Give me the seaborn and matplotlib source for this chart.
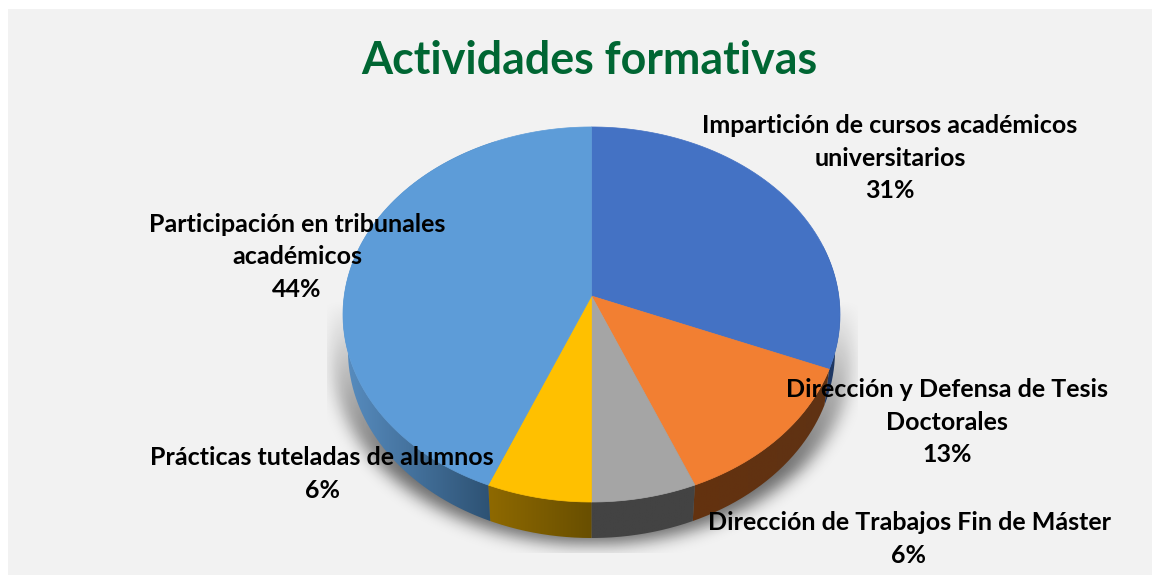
import numpy as np
import matplotlib
matplotlib.use("Agg")
import matplotlib.pyplot as plt
import seaborn as sns
from matplotlib.colors import LinearSegmentedColormap
from matplotlib.patches import Rectangle, PathPatch
from matplotlib.path import Path
from matplotlib.transforms import Affine2D, Transform

titulo = "Actividades formativas"
categorias = [
    "Impartición de cursos académicos\nuniversitarios",
    "Dirección y Defensa de Tesis\nDoctorales",
    "Dirección de Trabajos Fin de Máster",
    "Prácticas tuteladas de alumnos",
    "Participación en tribunales\nacadémicos",
]
valores = [31.2, 12.6, 6.2, 6.2, 43.8]
colores = ["#4472c4", "#f27f32", "#a5a5a5", "#ffc000", "#5d9cd8"]
# pared lateral: color a la izquierda y a la derecha de cada porcion
pared_izq = ["#1f3864", "#64320f", "#434343", "#916b00", "#5a90c4"]
pared_der = ["#1f3864", "#5f3214", "#434343", "#664d00", "#2c5071"]
# centro de cada etiqueta en pixeles
pos_etiquetas = [(890, 158), (947, 422), (909, 539), (322, 474), (297, 257)]

ANCHO, ALTO = 1161, 578
CX, CY = 591.5, 296
SX, SY, PERSP = 247.3, 185.7, 0.0986
GROSOR = 36
ESTRECHA = 0.98  # el borde inferior se ve algo mas estrecho


def proyectar(xy):
    xy = np.asarray(xy, dtype=float)
    w = 1 + PERSP * xy[:, 1]
    return np.column_stack((CX + SX * xy[:, 0] / w, CY - SY * xy[:, 1] / w))


class Perspectiva(Transform):
    # pasa el circulo unidad del pie a la elipse en perspectiva
    input_dims = 2
    output_dims = 2
    has_inverse = False
    is_separable = False

    def transform_non_affine(self, values):
        return proyectar(values)

    def transform_path_non_affine(self, path):
        grande = path.transformed(Affine2D().scale(1000))
        return Path(proyectar(grande.to_polygons()[0] / 1000), closed=True)


def borde(theta1, theta2):
    t = np.radians(np.linspace(theta1, theta2, 200))
    return proyectar(np.column_stack((np.cos(t), np.sin(t))))


def borde_inferior(arco):
    return np.column_stack((CX + (arco[:, 0] - CX) * ESTRECHA, arco[:, 1] + GROSOR))


def gauss(img, sigma):
    x = np.arange(-3 * sigma, 3 * sigma + 1)
    k = np.exp(-x ** 2 / (2 * sigma ** 2))
    k = k / k.sum()
    img = np.apply_along_axis(lambda m: np.convolve(m, k, mode="same"), 0, img)
    return np.apply_along_axis(lambda m: np.convolve(m, k, mode="same"), 1, img)


sns.set_theme(style="white")
plt.rcParams["font.family"] = ["Lato", "DejaVu Sans"]

fig = plt.figure(figsize=(ANCHO / 100, ALTO / 100), dpi=100, facecolor="white")
ax = fig.add_axes([0, 0, 1, 1])
wedges, _ = ax.pie(valores, colors=colores, startangle=90, counterclock=False)
ax.set_aspect("auto")
ax.set_xlim(0, ANCHO)
ax.set_ylim(ALTO, 0)

ax.add_patch(Rectangle((8, 9), 1144, 566, facecolor="#f2f2f2", edgecolor="none", zorder=0))

# sombra difusa bajo el pie
rim = borde(0, 360)
yy, xx = np.mgrid[0:ALTO, 0:ANCHO]
puntos = np.column_stack((xx.ravel(), yy.ravel()))
masc = np.zeros((ALTO, ANCHO))
for dy in np.linspace(0, GROSOR + 6, 8):
    esc = (rim - [CX, CY + 18]) * [1.045, 1.0] + [CX, CY + 18 + dy]
    masc = np.maximum(masc, Path(esc).contains_points(puntos).reshape(ALTO, ANCHO))
sombra = gauss(masc, 8)
sombra = sombra * np.clip((yy - 300) / 170, 0, 1) * 0.55
sombra[(xx < 327) | (xx > 857) | (yy > 552)] = 0
rgba = np.zeros((ALTO, ANCHO, 4))
rgba[..., 3] = sombra
ax.imshow(rgba, extent=(0, ANCHO, ALTO, 0), aspect="auto", zorder=1, interpolation="bilinear")

# paredes laterales con degradado
for w, c1, c2 in zip(wedges, pared_izq, pared_der):
    arco = borde(w.theta1, w.theta2)
    banda = np.vstack((arco, borde_inferior(arco)[::-1]))
    parche = PathPatch(Path(banda, closed=False), facecolor="none", edgecolor="none", zorder=2)
    ax.add_patch(parche)
    cmap = LinearSegmentedColormap.from_list("pared", [c1, c2])
    # el degradado solo cubre la parte visible, por debajo del centro
    visible = arco[arco[:, 1] > CY]
    x0, x1 = visible[:, 0].min() - 6, visible[:, 0].max() + 6
    y0, y1 = banda[:, 1].min(), banda[:, 1].max()
    im = ax.imshow(np.linspace(0, 1, 256).reshape(1, -1), cmap=cmap, extent=(x0, x1, y1, y0),
                   aspect="auto", zorder=2)
    im.set_clip_path(parche)

# caras superiores del pie
persp = Perspectiva()
for w in wedges:
    w.set_edgecolor(w.get_facecolor())
    w.set_linewidth(0.5)
    w.set_transform(persp + ax.transData)
    w.set_zorder(3)
    w.set_clip_on(False)
ax.set_xlim(0, ANCHO)
ax.set_ylim(ALTO, 0)

ax.text(589.5, 61, titulo, ha="center", va="center", fontsize=32.2, fontweight="bold",
        color="#006633", zorder=5)
for nombre, valor, (x, y) in zip(categorias, valores, pos_etiquetas):
    ax.text(x, y, f"{nombre}\n{valor:.0f}%", ha="center", va="center", multialignment="center",
            fontsize=18, fontweight="bold", color="black", linespacing=1.5, zorder=5)

plt.savefig("out.png", dpi=100, facecolor="white")
plt.close()
